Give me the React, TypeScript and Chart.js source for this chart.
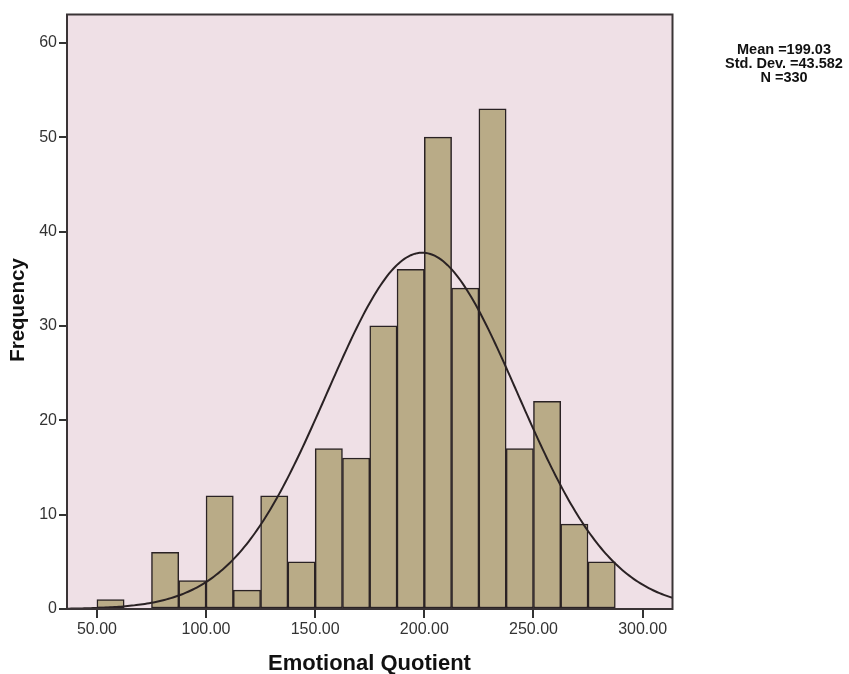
import { useEffect, useRef } from "react";
import { Chart, registerables } from "chart.js";

Chart.register(...registerables);

// Histogram bins (lower edges) and their counts
const binLower = [
  50.0, 62.5, 75.0, 87.5, 100.0, 112.5, 125.0, 137.5, 150.0, 162.5,
  175.0, 187.5, 200.0, 212.5, 225.0, 237.5, 250.0, 262.5, 275.0,
];
const frequencies = [
  1, 0, 6, 3, 12, 2, 12, 5, 17, 16, 30, 36, 50, 34, 53, 17, 22, 9, 5,
];
const binWidth = 12.5;

// Axis ticks
const xTicks = [50, 100, 150, 200, 250, 300];
const yTicks = [0, 10, 20, 30, 40, 50, 60];
const xMin = 36.3;
const xMax = 313.7;
const yMax = 63;

// Summary statistics shown beside the plot
const mean = 199.03;
const stdDev = 43.582;
const count = 330;
const statLines = ["Mean =199.03", "Std. Dev. =43.582", "N =330"];

const FONT = '"Liberation Sans", Arial, sans-serif';
const PLOT_BG = "#efe0e6";
const BAR_FILL = "#b9ab87";
const INK = "#2a2224";

// Fitted normal curve scaled to the histogram's counts
function normalCurve() {
  const pts: { x: number; y: number }[] = [];
  const steps = 280;
  for (let i = 0; i <= steps; i++) {
    const x = xMin + ((xMax - xMin) * i) / steps;
    const z = (x - mean) / stdDev;
    const y =
      (count * binWidth * Math.exp(-0.5 * z * z)) /
      (stdDev * Math.sqrt(2 * Math.PI));
    pts.push({ x, y });
  }
  return pts;
}

const decorations = {
  id: "decorations",
  beforeDraw(chart: any) {
    const { ctx, chartArea: a } = chart;
    ctx.save();
    ctx.fillStyle = "#ffffff";
    ctx.fillRect(0, 0, chart.width, chart.height);
    ctx.fillStyle = PLOT_BG;
    ctx.fillRect(a.left, a.top, a.right - a.left, a.bottom - a.top);
    ctx.restore();
  },
  afterDraw(chart: any) {
    const { ctx, chartArea: a } = chart;
    ctx.save();
    // frame around the plot area
    ctx.strokeStyle = "#3a3436";
    ctx.lineWidth = 2;
    ctx.strokeRect(a.left, a.top, a.right - a.left, a.bottom - a.top);

    // axis titles
    ctx.fillStyle = "#111";
    ctx.textAlign = "center";
    ctx.textBaseline = "alphabetic";
    ctx.font = `bold 22px ${FONT}`;
    ctx.fillText("Emotional Quotient", 369.5, 670);

    ctx.save();
    ctx.translate(24, 310);
    ctx.rotate(-Math.PI / 2);
    ctx.font = `bold 20.5px ${FONT}`;
    ctx.fillText("Frequency", 0, 0);
    ctx.restore();

    // statistics block
    ctx.font = `bold 14.5px ${FONT}`;
    ctx.textBaseline = "middle";
    const ys = [50, 64, 77.5];
    statLines.forEach((s, i) => ctx.fillText(s, 784, ys[i]));
    ctx.restore();
  },
};

export default function App() {
  const ref = useRef<HTMLCanvasElement | null>(null);

  useEffect(() => {
    if (!ref.current) return;
    const barData = binLower.map((lo, i) => ({
      x: lo + binWidth / 2,
      y: frequencies[i],
    }));

    const chart = new Chart(ref.current, {
      type: "bar",
      data: {
        datasets: [
          {
            type: "line",
            data: normalCurve(),
            borderColor: INK,
            borderWidth: 2,
            pointRadius: 0,
            tension: 0,
            fill: false,
            order: 0,
          } as any,
          {
            type: "bar",
            data: barData,
            backgroundColor: BAR_FILL,
            borderColor: INK,
            borderWidth: 1.5,
            borderSkipped: false,
            barPercentage: 1,
            categoryPercentage: 1,
            order: 1,
          } as any,
        ],
      },
      options: {
        responsive: false,
        animation: false,
        events: [],
        layout: {
          padding: { top: 14.5, right: 176.5, left: 0, bottom: 0 },
        },
        plugins: {
          legend: { display: false },
          tooltip: { enabled: false },
          title: { display: false },
        },
        scales: {
          x: {
            type: "linear",
            min: xMin,
            max: xMax,
            offset: false,
            afterBuildTicks: (s: any) => {
              s.ticks = xTicks.map((v) => ({ value: v }));
            },
            afterFit: (s: any) => {
              s.height = 65;
            },
            ticks: {
              callback: (v: any) => Number(v).toFixed(2),
              color: "#333",
              font: { family: FONT, size: 16 },
              padding: 2,
              maxRotation: 0,
              autoSkip: false,
            },
            grid: {
              offset: false,
              drawOnChartArea: false,
              drawTicks: true,
              tickLength: 9,
              color: "#333",
              lineWidth: 2,
            },
            border: { display: false },
          },
          y: {
            type: "linear",
            min: 0,
            max: yMax,
            afterBuildTicks: (s: any) => {
              s.ticks = yTicks.map((v) => ({ value: v }));
            },
            afterFit: (s: any) => {
              s.width = 67;
            },
            ticks: {
              color: "#333",
              font: { family: FONT, size: 16 },
              padding: 2,
              autoSkip: false,
            },
            grid: {
              offset: false,
              drawOnChartArea: false,
              drawTicks: true,
              tickLength: 8,
              color: "#333",
              lineWidth: 2,
            },
            border: { display: false },
          },
        },
      },
      plugins: [decorations],
    });

    return () => chart.destroy();
  }, []);

  return (
    <div style={{ position: "absolute", left: 0, top: 0, width: 849, height: 674 }}>
      <canvas ref={ref} width={849} height={674} style={{ display: "block" }} />
    </div>
  );
}
